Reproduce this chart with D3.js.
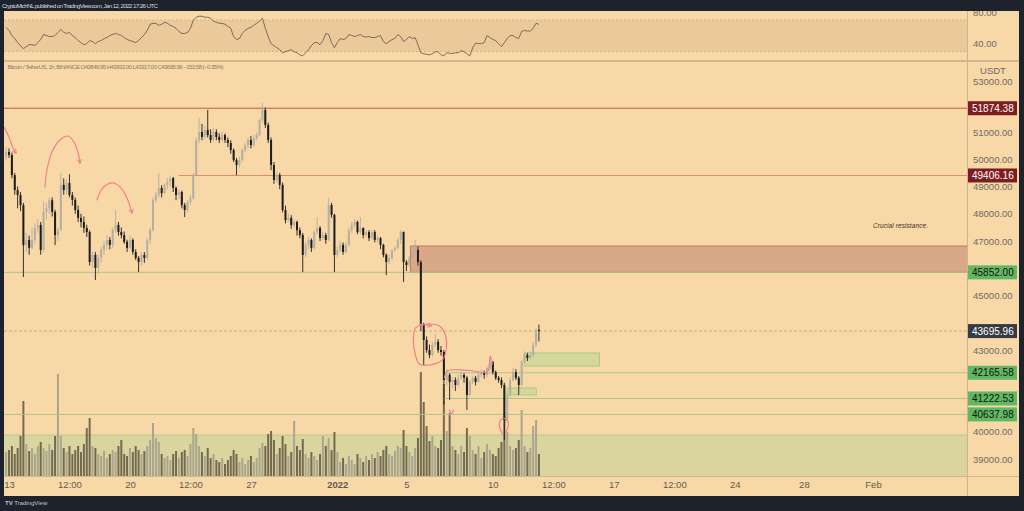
<!DOCTYPE html>
<html><head><meta charset="utf-8">
<script src="https://cdn.jsdelivr.net/npm/d3@7"></script>
<style>
html,body{margin:0;padding:0;background:#1e222d;}
svg{display:block;font-family:"Liberation Sans",Arial,sans-serif;}
</style></head><body>
<svg id="c" width="1024" height="511"></svg>
<script>
// ---------------- DATA ----------------
const candleStart = "2021-12-12T20:00Z";
const candleHours = 4;
const open = [
50100,50270,50160,49420,48870,48690,48320,46850,47040,46750,
47040,47480,47590,46670,48070,48210,48500,48070,47220,47410,
49060,48870,49130,48690,48510,48140,47850,47700,47480,47330,
46230,46490,46010,46380,46670,46860,47040,46860,47410,47590,
47330,47220,46970,46750,47040,46600,46380,46230,46490,46380,
47040,47410,48510,48690,48950,48760,49060,49170,49310,48950,
48690,48800,48320,48140,48430,48580,49420,50710,51000,50820,
51080,50890,50710,51000,50820,50710,50890,50710,50600,50340,
49970,49790,49970,50340,50520,50710,50520,50780,50890,51440,
51810,51260,50710,49790,49240,49420,49060,48140,47770,47850,
47590,47700,47400,47220,46490,46860,47040,46750,47330,47480,
47110,47220,47040,48320,47960,46490,46670,46860,46600,46860,
47400,47590,47700,47330,47480,47220,47330,47110,47330,47040,
47110,46860,46490,46230,46380,46670,46750,47040,47330,46230,
46120,46380,46600,46670,46230,43920,43370,43000,42820,43190,
43300,43000,42930,41900,42090,41830,41900,41720,41980,42090,
41980,41350,41830,41980,41830,42090,42190,42090,42340,42560,
42190,41980,41900,41720,40430,41350,41900,42190,41980,41720,
42560,42820,42710,42820,43190,43740];
const high = [
50450,50400,50250,49500,49000,48800,48400,47300,47200,47500,
47650,47800,47700,48460,48400,48600,48600,48150,47500,49500,
49300,49250,49450,48800,48600,48300,48000,47900,47600,47400,
46600,46600,46500,46800,47000,47200,47150,47500,48140,47700,
47500,47350,47050,47200,47100,46700,46450,46600,46600,47100,
47500,48600,48800,49500,49050,49100,49300,49400,49350,49000,
48900,48850,48400,48500,48700,49500,50800,51520,51300,51250,
51810,51100,51150,51100,50950,51000,50950,50800,50700,50400,
50050,50100,50400,50600,50800,50850,50900,51000,51500,52070,
51900,51350,50800,49900,49550,49500,49150,48300,48000,47950,
47800,47750,47500,47300,46950,47150,47100,47400,47880,47550,
47350,47300,48580,48400,48000,46800,47000,46950,46950,47500,
47700,47800,47750,47880,47500,47400,47400,47400,47400,47200,
47150,46900,46550,46500,46700,46800,47100,47400,47350,46300,
46450,46700,47040,46800,46300,44000,43500,43200,43300,43600,
43400,43150,43000,42300,42150,42000,42000,42100,42200,42150,
42050,41900,42050,42050,42200,42300,42250,42400,42750,42600,
42250,42050,42000,41800,41450,42000,42350,42300,42050,42650,
42950,42900,42950,43300,43800,43933];
const low = [
49950,50050,49300,48700,48200,48100,45680,46600,46500,46700,
46900,47300,46500,46600,47800,48000,47900,46850,47000,47350,
48700,48700,48600,48300,48000,47700,47500,47300,47150,46100,
46000,45570,45800,46200,46500,46700,46700,46750,47300,47200,
47100,46900,46600,46700,46500,46300,45860,46100,46200,46300,
46900,47350,48400,48600,48600,48700,48900,49000,48800,48500,
48550,48200,47880,48050,48350,48500,49400,50600,50700,50750,
50800,50600,50650,50700,50600,50650,50600,50450,50200,49900,
49420,49700,49900,50250,50400,50400,50450,50700,50850,51350,
51150,50600,49600,49100,49150,48900,48050,47650,47700,47450,
47500,47200,47100,45860,46400,46700,46600,46700,47250,47000,
47050,46900,47000,47850,45860,46400,46600,46500,46550,46800,
47300,47500,47250,47250,47100,47150,47000,47050,46950,46950,
46700,46400,45750,46150,46300,46600,46700,46900,45500,45900,
46050,46300,46550,46100,43700,42450,42900,42700,42750,43100,
42900,42800,41000,41700,41170,41600,41500,41650,41900,41800,
40800,41300,41750,41700,41800,42000,41950,42000,42250,42100,
41900,41800,41600,39700,40350,41250,41850,41900,41350,41700,
42500,42600,42650,42750,43100,43317];
const close = [
50270,50160,49420,48870,48690,48320,46850,47040,46750,47040,
47480,47590,46670,48070,48210,48500,48070,47220,47410,49060,
48870,49130,48690,48510,48140,47850,47700,47480,47330,46230,
46490,46010,46380,46670,46860,47040,46860,47410,47590,47330,
47220,46970,46750,47040,46600,46380,46230,46490,46380,47040,
47410,48510,48690,48950,48760,49060,49170,49310,48950,48690,
48800,48320,48140,48430,48580,49420,50710,51000,50820,51080,
50890,50710,51000,50820,50710,50890,50710,50600,50340,49970,
49790,49970,50340,50520,50710,50520,50780,50890,51440,51810,
51260,50710,49790,49240,49420,49060,48140,47770,47850,47590,
47700,47400,47220,46490,46860,47040,46750,47330,47480,47110,
47220,47040,48320,47960,46490,46670,46860,46600,46860,47400,
47590,47700,47330,47480,47220,47330,47110,47330,47040,47110,
46860,46490,46230,46380,46670,46750,47040,47330,46230,46120,
46380,46600,46670,46230,43920,43370,43000,42820,43190,43300,
43000,42930,41900,42090,41830,41900,41720,41980,42090,41980,
41350,41830,41980,41830,42090,42190,42090,42340,42560,42190,
41980,41900,41720,40430,41350,41900,42190,41980,41720,42560,
42820,42710,42820,43190,43740,43695.96];
const volume = [
4800,5200,6000,4400,5600,8000,15000,6400,5000,5600,
4400,6000,6800,5600,5000,6400,5200,8000,20400,8000,
5600,4800,6000,4400,5200,6000,4800,6400,9600,11600,
6000,5600,4400,4000,5000,3600,4400,5200,4800,6000,
7200,4400,4000,5600,4800,6000,5200,4400,5000,6000,
7200,10600,7600,6800,4400,3600,4000,3200,4400,5000,
3600,4800,5200,4000,6400,9600,8400,6000,4800,4000,
5600,3600,4400,3200,2800,3600,2400,3200,4000,5200,
4400,2800,3600,2400,3200,4000,2800,3600,5600,6600,
6000,8400,9000,7200,4400,5600,8000,6400,4000,4800,
11000,6000,5200,7400,4400,3600,4800,4000,3200,4400,
8000,6000,7600,5200,8800,4800,2800,3600,2400,4000,
3200,2400,4400,3600,2800,4000,3200,4400,3600,4800,
4000,5200,6000,4400,4000,5000,6000,5600,9200,6000,
4800,4000,5600,7600,20800,14800,10000,7000,8000,6000,
5600,7200,18400,9000,12600,6000,5200,4400,6000,4800,
9600,8000,5200,4400,6000,3600,4800,6400,5200,4400,
4000,5600,6800,12000,8800,6000,5200,5600,7200,13200,
6000,4800,5600,10000,11200,4400];
const rsi = [
60.6,56.8,50.3,46.5,41.3,37.4,33.5,36.1,38.7,38.7,
37.4,41.3,45.2,51.6,50.3,49.0,49.0,50.3,54.2,58.1,
54.2,52.9,54.2,50.3,47.7,43.9,41.3,38.7,40.0,43.9,
42.6,40.0,42.6,43.9,46.5,47.7,50.3,51.6,52.9,51.6,
50.3,47.7,45.2,43.9,42.6,41.3,43.9,47.7,51.6,56.8,
64.5,65.8,65.8,63.2,64.5,67.1,65.8,63.2,61.9,59.4,
55.5,52.9,52.9,54.2,59.4,69.7,73.5,74.8,74.8,73.5,
73.5,72.3,68.4,67.1,65.8,65.8,64.5,61.9,59.4,49.0,
45.2,46.5,52.9,56.8,59.4,60.6,63.2,65.8,68.4,72.3,
59.4,49.0,40.0,37.4,34.8,32.3,28.4,29.7,31.0,32.3,
29.7,28.4,25.8,24.5,28.4,32.3,37.4,41.3,41.3,38.7,
43.9,52.9,51.6,41.3,34.8,41.3,46.5,45.2,46.5,51.6,
50.3,49.0,50.3,51.6,49.0,48.4,49.0,47.7,47.7,49.0,
50.3,42.6,40.0,42.6,45.2,46.5,51.6,49.0,42.6,45.2,
49.0,46.5,47.7,38.7,28.4,27.1,26.5,25.8,27.1,29.7,
29.7,25.8,24.5,28.4,27.7,27.5,28.4,28.4,31.0,29.7,
27.1,24.5,34.8,40.6,40.0,40.0,41.3,50.3,47.7,45.2,
43.9,40.0,36.1,41.3,46.5,50.3,50.3,47.7,46.5,55.5,
56.8,55.9,56.1,59.4,65.8,64.5];

// tick labels shown on the price scale (labels hidden behind price tags are left out, as in the picture)
const priceTicks = [39000,40000,43000,45000,47000,48000,49000,50000,51000,53000];
const rsiTicks = [80,40];
const timeTicks = ["2021-12-13T00:00Z","2021-12-16T12:00Z","2021-12-20T00:00Z","2021-12-23T12:00Z","2021-12-27T00:00Z","2022-01-01T00:00Z","2022-01-05T00:00Z","2022-01-10T00:00Z","2022-01-13T12:00Z","2022-01-17T00:00Z","2022-01-20T12:00Z","2022-01-24T00:00Z","2022-01-28T00:00Z","2022-02-01T00:00Z"];
const timeLabels = ["13","12:00","20","12:00","27","2022","5","10","12:00","17","12:00","24","28","Feb"];

// horizontal levels
const levelPrices = [51874.38, 49406.16, 45852.00, 42165.58, 41222.53, 40637.98];
const levelStarts = [null, "2021-12-22T19:48Z", null, "2022-01-07T07:30Z", "2022-01-07T02:00Z", null];
const levelColors = ["#c4564e", "#d98b72", "#a9c48a", "#a9c48a", "#a9c48a", "#a9c48a"];
// axis price tags
const tagPrices = [51874.38, 49406.16, 45852.00, 43695.96, 42165.58, 41222.53, 40637.98];
const tagBg = ["#7d1d22", "#7d1d22", "#62b862", "#363a45", "#62b862", "#62b862", "#62b862"];
const tagFg = ["#ffffff", "#ffffff", "#10140f", "#ffffff", "#10140f", "#10140f", "#10140f"];
const lastPrice = 43695.96;
// rectangles: [t0, t1, priceTop, priceBottom]
const resistanceBox = ["2022-01-05T05:36Z", "2022-02-10T00:00Z", 46818, 45852];
const greenBoxes = [
  ["2022-01-11T19:42Z", "2022-01-16T04:06Z", 42892, 42415],
  ["2022-01-10T20:06Z", "2022-01-12T12:18Z", 41607, 41351]
];
const volumeZone = ["2021-12-10T00:00Z", "2022-02-10T00:00Z", 39880, 38000];
// hand-drawn annotations [time, price]
const annArc1 = [["2021-12-12T17:00Z",51185],["2021-12-13T00:00Z",50818],["2021-12-13T05:30Z",50415],["2021-12-13T09:40Z",50231]];
const annArc2 = [["2021-12-15T02:00Z",48983],["2021-12-15T04:40Z",49607],["2021-12-15T11:40Z",50268],["2021-12-15T22:40Z",50708],["2021-12-16T09:50Z",50855],["2021-12-16T18:10Z",50635],["2021-12-16T23:40Z",50268],["2021-12-17T02:30Z",49864]];
const annArc3 = [["2021-12-18T02:00Z",48506],["2021-12-18T09:00Z",48910],["2021-12-18T17:20Z",49094],["2021-12-19T01:40Z",49130],["2021-12-19T12:40Z",48910],["2021-12-19T21:00Z",48506],["2021-12-20T02:40Z",48029]];
const annLoop = [["2022-01-05T20:48Z",43919],["2022-01-05T12:30Z",43809],["2022-01-05T09:40Z",43369],["2022-01-05T12:30Z",42818],["2022-01-05T18:05Z",42488],["2022-01-06T08:00Z",42450],["2022-01-07T02:00Z",42635],["2022-01-07T07:30Z",43075],["2022-01-07T06:06Z",43552],["2022-01-06T21:50Z",43882],["2022-01-06T08:00Z",43956],["2022-01-05T20:48Z",43919]];
const annLoopArrow = [["2022-01-05T19:24Z",43950],["2022-01-06T10:42Z",43890]];
const annBridge = [["2022-01-07T04:42Z",41975],["2022-01-07T08:54Z",42231],["2022-01-08T15:24Z",42249],["2022-01-09T16:24Z",42194],["2022-01-09T19:06Z",42488],["2022-01-09T20:30Z",42781],["2022-01-09T23:18Z",42488]];
const annCurl = [["2022-01-10T13:12Z",39920],["2022-01-10T09:00Z",40287],["2022-01-10T14:36Z",40507],["2022-01-10T21:30Z",40323],["2022-01-10T18:42Z",39993]];
const annCaret = [["2022-01-07T11:42Z",40801],["2022-01-07T14:24Z",40654],["2022-01-07T17:12Z",40801]];
const noteText = "Crucial resistance.";
const notePos = ["2022-02-01T00:00Z", 47480];

// ---------------- LAYOUT ----------------
const W = 1024, H = 511;
const L = 4, R = 967, AX = 1019, TOP = 11, BOT = 496;
const rsiTop = 11, rsiBot = 60, mainTop = 62, mainBot = 476;
const BG = "#f8d8a6", PINK = "#ef7b8e";

const svg = d3.select("#c");
const defs = svg.append("defs");
defs.append("clipPath").attr("id","clipMain").append("rect").attr("x",L).attr("y",mainTop).attr("width",R-L).attr("height",mainBot-mainTop);
defs.append("clipPath").attr("id","clipRsi").append("rect").attr("x",L).attr("y",rsiTop).attr("width",R-L).attr("height",rsiBot-rsiTop);
defs.append("clipPath").attr("id","clipRsiAx").append("rect").attr("x",R).attr("y",rsiTop).attr("width",AX-R).attr("height",rsiBot-rsiTop);
defs.append("marker").attr("id","arr").attr("viewBox","0 0 8 8").attr("refX",6).attr("refY",4)
  .attr("markerWidth",6).attr("markerHeight",6).attr("markerUnits","userSpaceOnUse").attr("orient","auto")
  .append("path").attr("d","M1,1 L6.5,4 L1,7").attr("fill","none").attr("stroke",PINK).attr("stroke-width",1.2);

svg.append("rect").attr("width",W).attr("height",H).attr("fill","#1e222d");
svg.append("rect").attr("x",L).attr("y",TOP).attr("width",AX-L).attr("height",BOT-TOP).attr("fill",BG);

// scales
const x = d3.scaleUtc().domain([new Date("2021-12-13T00:00Z"), new Date("2022-02-01T00:00Z")]).range([9, 873]);
const y = d3.scaleLinear().domain([40000, 50000]).range([431.8, 159.3]);
const yV = d3.scaleLinear().domain([0, 30000]).range([mainBot, 326]);
const yR = d3.scaleLinear().domain([30, 70]).range([51.5, 20]);

const t0 = Date.parse(candleStart);
const bars = close.map((c, i) => ({
  t: new Date(t0 + i * candleHours * 3600e3), o: open[i], h: high[i], l: low[i], c: c, v: volume[i], r: rsi[i]
}));
const T = s => new Date(s);

// ---------------- RSI PANE ----------------
const rsiG = svg.append("g").attr("clip-path","url(#clipRsi)");
rsiG.append("rect").attr("x",L).attr("width",R-L).attr("y",yR(70)).attr("height",yR(30)-yR(70)).attr("fill","#ebc99b");
[70,30].forEach(v => rsiG.append("line").attr("x1",L).attr("x2",R).attr("y1",yR(v)).attr("y2",yR(v))
  .attr("stroke","#d3b58c").attr("stroke-dasharray","2,2").attr("stroke-width",1));
rsiG.append("path").datum(bars).attr("fill","none").attr("stroke","#6d6152").attr("stroke-width",0.9)
  .attr("d", d3.line().x(d => x(d.t)).y(d => yR(d.r)));
const rsiAx = svg.append("g").attr("clip-path","url(#clipRsiAx)");
rsiAx.selectAll("text").data(rsiTicks).join("text")
  .attr("x",973).attr("y",d=>yR(d)).attr("dominant-baseline","central")
  .attr("font-size",9.5).attr("fill","#6d6a66").text(d=>d3.format(".2f")(d));

// ---------------- MAIN PANE ----------------
const main = svg.append("g").attr("clip-path","url(#clipMain)");
main.append("rect").attr("x",x(T(volumeZone[0]))).attr("width",x(T(volumeZone[1]))-x(T(volumeZone[0])))
  .attr("y",y(volumeZone[2])).attr("height",y(volumeZone[3])-y(volumeZone[2]))
  .attr("fill","#dad49f").attr("stroke","#b8c98e").attr("stroke-width",1);
main.append("g").selectAll("rect").data(bars).join("rect")
  .attr("x",d=>x(d.t)-1).attr("width",2).attr("y",d=>yV(d.v)).attr("height",d=>mainBot-yV(d.v))
  .attr("fill",d=>d.c>=d.o ? "#a8a28c" : "#6f644d").attr("opacity",0.95);
main.append("rect").attr("x",x(T(resistanceBox[0]))).attr("width",x(T(resistanceBox[1]))-x(T(resistanceBox[0])))
  .attr("y",y(resistanceBox[2])).attr("height",y(resistanceBox[3])-y(resistanceBox[2]))
  .attr("fill","#d8a887").attr("stroke","#c27a5f").attr("stroke-width",1);
main.append("g").selectAll("rect").data(greenBoxes).join("rect")
  .attr("x",d=>x(T(d[0]))).attr("width",d=>x(T(d[1]))-x(T(d[0])))
  .attr("y",d=>y(d[2])).attr("height",d=>y(d[3])-y(d[2]))
  .attr("fill","#d6d79b").attr("stroke","#a9c98a").attr("stroke-width",1);
main.append("g").selectAll("line").data(levelPrices).join("line")
  .attr("x1",(d,i)=>levelStarts[i] ? x(T(levelStarts[i])) : L).attr("x2",R)
  .attr("y1",d=>y(d)).attr("y2",d=>y(d))
  .attr("stroke",(d,i)=>levelColors[i]).attr("stroke-width",1);
main.append("line").attr("x1",L).attr("x2",R).attr("y1",y(lastPrice)).attr("y2",y(lastPrice))
  .attr("stroke","#c9a985").attr("stroke-dasharray","3,2").attr("stroke-width",1);
const cg = main.append("g");
cg.selectAll("line").data(bars).join("line")
  .attr("x1",d=>x(d.t)).attr("x2",d=>x(d.t)).attr("y1",d=>y(d.h)).attr("y2",d=>y(d.l))
  .attr("stroke",d=>d.c>=d.o ? "#b3afa3" : "#1d1d1d").attr("stroke-width",0.9);
cg.selectAll("rect").data(bars).join("rect")
  .attr("x",d=>x(d.t)-1).attr("width",2)
  .attr("y",d=>y(Math.max(d.o,d.c))).attr("height",d=>Math.max(0.8, Math.abs(y(d.o)-y(d.c))))
  .attr("fill",d=>d.c>=d.o ? "#b3afa3" : "#1d1d1d");
const aline = d3.line().x(d=>x(T(d[0]))).y(d=>y(d[1])).curve(d3.curveCatmullRom.alpha(0.5));
const annG = main.append("g").attr("fill","none").attr("stroke",PINK).attr("stroke-width",1.1).attr("stroke-linecap","round");
[annArc1, annArc2, annArc3, annLoopArrow].forEach(a => annG.append("path").attr("d",aline(a)).attr("marker-end","url(#arr)"));
[annLoop, annBridge, annCurl, annCaret].forEach(a => annG.append("path").attr("d",aline(a)));
main.append("text").attr("x",x(T(notePos[0]))).attr("y",y(notePos[1]))
  .attr("font-size",6.5).attr("font-style","italic").attr("fill","#3d3226").attr("textLength",55)
  .text(noteText);
main.append("text").attr("x",7.5).attr("y",69).attr("font-size",6).attr("fill","#8c7c69").attr("textLength",216)
  .text("Bitcoin / TetherUS, 1h, BINANCE  O43849.95 H43933.00 L43317.00 C43695.96 \u2212153.58 (\u22120.35%)");

// ---------------- PRICE AXIS ----------------
const axG = svg.append("g").attr("transform",`translate(${R},0)`)
  .call(d3.axisRight(y).tickValues(priceTicks).tickFormat(d3.format(".2f")).tickSize(0).tickPadding(6));
axG.select(".domain").remove();
axG.attr("font-family",null);
axG.selectAll("text").attr("font-size",9.5).attr("fill","#6d6a66")
  .attr("dy", d => d === 53000 ? "0.75em" : "0.32em");
svg.append("text").attr("x",993).attr("y",70).attr("text-anchor","middle").attr("dominant-baseline","central")
  .attr("font-size",9.5).attr("fill","#6d6a66").text("USDT");
const tags = svg.append("g").selectAll("g").data(tagPrices).join("g");
tags.append("rect").attr("x",R).attr("width",50).attr("y",d=>y(d)-7).attr("height",14)
  .attr("fill",(d,i)=>tagBg[i]);
tags.append("text").attr("x",R+5).attr("y",d=>y(d)).attr("dominant-baseline","central")
  .attr("font-size",10).attr("fill",(d,i)=>tagFg[i]).text(d=>d3.format(".2f")(d));

// ---------------- TIME AXIS ----------------
const tx = svg.append("g").attr("transform",`translate(0,${mainBot})`)
  .call(d3.axisBottom(x).tickValues(timeTicks.map(T)).tickFormat((d,i)=>timeLabels[i]).tickSize(0).tickPadding(5));
tx.select(".domain").remove();
tx.attr("font-family",null);
tx.selectAll("text").attr("font-size",9.5).attr("fill","#5f5a54")
  .attr("font-weight",(d,i)=>timeLabels[i]==="2022" ? "bold" : null);

// ---------------- SEPARATORS ----------------
svg.append("line").attr("x1",L).attr("x2",AX).attr("y1",61).attr("y2",61).attr("stroke","#d2b891").attr("stroke-width",2);
svg.append("line").attr("x1",L).attr("x2",AX).attr("y1",mainBot+0.5).attr("y2",mainBot+0.5).attr("stroke","#cfb795").attr("stroke-width",1);
svg.append("line").attr("x1",R+0.5).attr("x2",R+0.5).attr("y1",TOP).attr("y2",BOT).attr("stroke","#cdb594").attr("stroke-width",1);

// ---------------- HEADER / FOOTER ----------------
svg.append("text").attr("x",2).attr("y",8).attr("font-size",6.2).attr("fill","#d7d9df")
  .attr("textLength",156).text("CryptoMichNL published on TradingView.com, Jan 12, 2022 17:26 UTC");
svg.append("text").attr("x",5).attr("y",505).attr("font-size",6).attr("fill","#c3c6ce")
  .html('<tspan font-weight="bold">TV</tspan> TradingView');
</script>
</body></html>
